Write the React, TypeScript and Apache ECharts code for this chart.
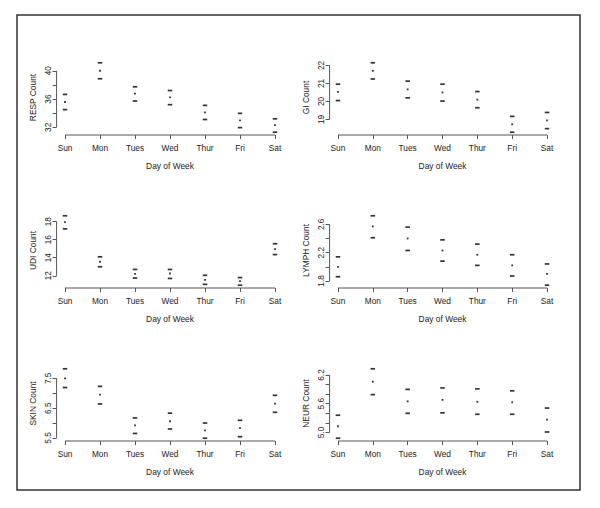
import React, { useEffect, useRef } from "react";
import * as echarts from "echarts";

const days = ["Sun", "Mon", "Tues", "Wed", "Thur", "Fri", "Sat"];
const dayPositions = [1, 2, 3, 4, 5, 6, 7];

const respUpper = [36.65, 41.13, 37.73, 37.2, 35.1, 33.97, 33.2];
const respMean = [35.58, 40.0, 36.75, 36.23, 34.1, 32.99, 32.3];
const respLower = [34.5, 38.87, 35.72, 35.2, 33.1, 31.95, 31.3];
const respTicks = [32, 34, 36, 38, 40];
const respLabels = [32, 36, 40];

const giUpper = [20.96, 22.15, 21.13, 20.96, 20.55, 19.17, 19.39];
const giMean = [20.53, 21.7, 20.67, 20.5, 20.1, 18.73, 18.95];
const giLower = [20.05, 21.25, 20.2, 20.02, 19.65, 18.29, 18.49];
const giTicks = [19, 20, 21, 22];
const giLabels = [19, 20, 21, 22];

const udiUpper = [18.65, 14.1, 12.7, 12.7, 12.05, 11.8, 15.55];
const udiMean = [17.95, 13.55, 12.2, 12.25, 11.55, 11.4, 14.95];
const udiLower = [17.2, 13.0, 11.75, 11.7, 11.05, 10.95, 14.35];
const udiTicks = [12, 14, 16, 18];
const udiLabels = [12, 14, 16, 18];

const lymphUpper = [2.14, 2.72, 2.56, 2.38, 2.32, 2.17, 2.04];
const lymphMean = [2.0, 2.57, 2.4, 2.23, 2.17, 2.02, 1.9];
const lymphLower = [1.86, 2.41, 2.23, 2.08, 2.02, 1.87, 1.74];
const lymphTicks = [1.8, 2.0, 2.2, 2.4, 2.6];
const lymphLabels = [1.8, 2.2, 2.6];

const skinUpper = [7.82, 7.23, 6.17, 6.33, 6.0, 6.09, 6.93];
const skinMean = [7.5, 6.95, 5.92, 6.06, 5.75, 5.83, 6.65];
const skinLower = [7.19, 6.64, 5.65, 5.8, 5.49, 5.54, 6.36];
const skinTicks = [5.5, 6.0, 6.5, 7.0, 7.5];
const skinLabels = [5.5, 6.5, 7.5];

const neurUpper = [5.36, 6.33, 5.9, 5.93, 5.91, 5.87, 5.51];
const neurMean = [5.13, 6.06, 5.65, 5.68, 5.64, 5.63, 5.27];
const neurLower = [4.88, 5.79, 5.4, 5.41, 5.38, 5.38, 5.01];
const neurTicks = [5.0, 5.2, 5.4, 5.6, 5.8, 6.0, 6.2];
const neurLabels = [5.0, 5.6, 6.2];

const panels = [
  { name: "RESP Count", upper: respUpper, mean: respMean, lower: respLower, ticks: respTicks, labels: respLabels, dec: 0 },
  { name: "GI Count", upper: giUpper, mean: giMean, lower: giLower, ticks: giTicks, labels: giLabels, dec: 0 },
  { name: "UDI Count", upper: udiUpper, mean: udiMean, lower: udiLower, ticks: udiTicks, labels: udiLabels, dec: 0 },
  { name: "LYMPH Count", upper: lymphUpper, mean: lymphMean, lower: lymphLower, ticks: lymphTicks, labels: lymphLabels, dec: 1 },
  { name: "SKIN Count", upper: skinUpper, mean: skinMean, lower: skinLower, ticks: skinTicks, labels: skinLabels, dec: 1 },
  { name: "NEUR Count", upper: neurUpper, mean: neurMean, lower: neurLower, ticks: neurTicks, labels: neurLabels, dec: 1 },
];

const FONT = "'Liberation Sans', Arial, sans-serif";
const TXT = "#222";
const AX = "#555";
const XMIN = 0.76;
const XMAX = 7.24;

export default function App() {
  const ref = useRef<HTMLDivElement>(null);
  useEffect(() => {
    document.body.style.margin = "0";
    if (!ref.current) return;
    const chart = echarts.init(ref.current, undefined, { renderer: "svg" });

    const colLeft = [56.6, 329.6];
    const colWidth = [226.8, 225.8];
    const rowTop = [60, 213, 366];
    const height = 75;

    const grid: any[] = [];
    const xAxis: any[] = [];
    const yAxis: any[] = [];
    const series: any[] = [];

    panels.forEach((p, i) => {
      const col = i % 2;
      const row = Math.floor(i / 2);
      const lo = Math.min(...p.lower);
      const hi = Math.max(...p.upper);
      const ext = (hi - lo) * 0.04;
      const ymin = lo - ext;
      const ymax = hi + ext;
      grid.push({ left: colLeft[col], top: rowTop[row], width: colWidth[col], height });
      xAxis.push({
        gridIndex: i,
        type: "value",
        min: XMIN,
        max: XMAX,
        name: "Day of Week",
        nameLocation: "middle",
        nameGap: 27,
        nameTextStyle: { fontFamily: FONT, fontSize: 8.4, color: TXT },
        axisLine: { show: false },
        splitLine: { show: false },
        axisTick: { show: true, customValues: dayPositions, length: 4, lineStyle: { color: AX } },
        axisLabel: {
          customValues: dayPositions,
          formatter: (v: number) => days[Math.round(v) - 1] ?? "",
          fontFamily: FONT,
          fontSize: 8.3,
          color: TXT,
          margin: 9,
        },
      });
      yAxis.push({
        gridIndex: i,
        type: "value",
        min: ymin,
        max: ymax,
        name: p.name,
        nameLocation: "middle",
        nameGap: 20,
        nameRotate: 90,
        nameTextStyle: { fontFamily: FONT, fontSize: 8.4, color: TXT },
        axisLine: { show: false },
        splitLine: { show: false },
        axisTick: { show: true, customValues: p.ticks, length: 4, lineStyle: { color: AX } },
        axisLabel: {
          customValues: p.labels,
          rotate: 90,
          formatter: (v: number) => v.toFixed(p.dec),
          fontFamily: FONT,
          fontSize: 8.3,
          color: TXT,
          margin: 5,
        },
      });
      series.push({
        type: "line",
        xAxisIndex: i,
        yAxisIndex: i,
        data: [[dayPositions[0], ymin], [dayPositions[dayPositions.length - 1], ymin]],
        symbol: "none",
        clip: false,
        silent: true,
        lineStyle: { color: AX, width: 1 },
      });
      series.push({
        type: "line",
        xAxisIndex: i,
        yAxisIndex: i,
        data: [[XMIN, p.ticks[0]], [XMIN, p.ticks[p.ticks.length - 1]]],
        symbol: "none",
        clip: false,
        silent: true,
        lineStyle: { color: AX, width: 1 },
      });
      series.push({
        type: "scatter",
        xAxisIndex: i,
        yAxisIndex: i,
        symbol: "rect",
        symbolSize: [4.5, 1.7],
        itemStyle: { color: "#000" },
        data: p.upper.map((v, k) => [dayPositions[k], v]),
        silent: true,
      });
      series.push({
        type: "scatter",
        xAxisIndex: i,
        yAxisIndex: i,
        symbol: "rect",
        symbolSize: [4.5, 1.7],
        itemStyle: { color: "#000" },
        data: p.lower.map((v, k) => [dayPositions[k], v]),
        silent: true,
      });
      series.push({
        type: "scatter",
        xAxisIndex: i,
        yAxisIndex: i,
        symbol: "rect",
        symbolSize: [1.8, 1.8],
        itemStyle: { color: "#000" },
        data: p.mean.map((v, k) => [dayPositions[k], v]),
        silent: true,
      });
    });

    chart.setOption({
      animation: false,
      backgroundColor: "#fff",
      grid,
      xAxis,
      yAxis,
      series,
      graphic: [
        {
          type: "rect",
          shape: { x: 17, y: 15, width: 563, height: 475 },
          style: { fill: "none", stroke: "#333", lineWidth: 1.5 },
          silent: true,
        },
      ],
    });
    return () => chart.dispose();
  }, []);
  return <div ref={ref} style={{ width: 600, height: 508 }} />;
}
